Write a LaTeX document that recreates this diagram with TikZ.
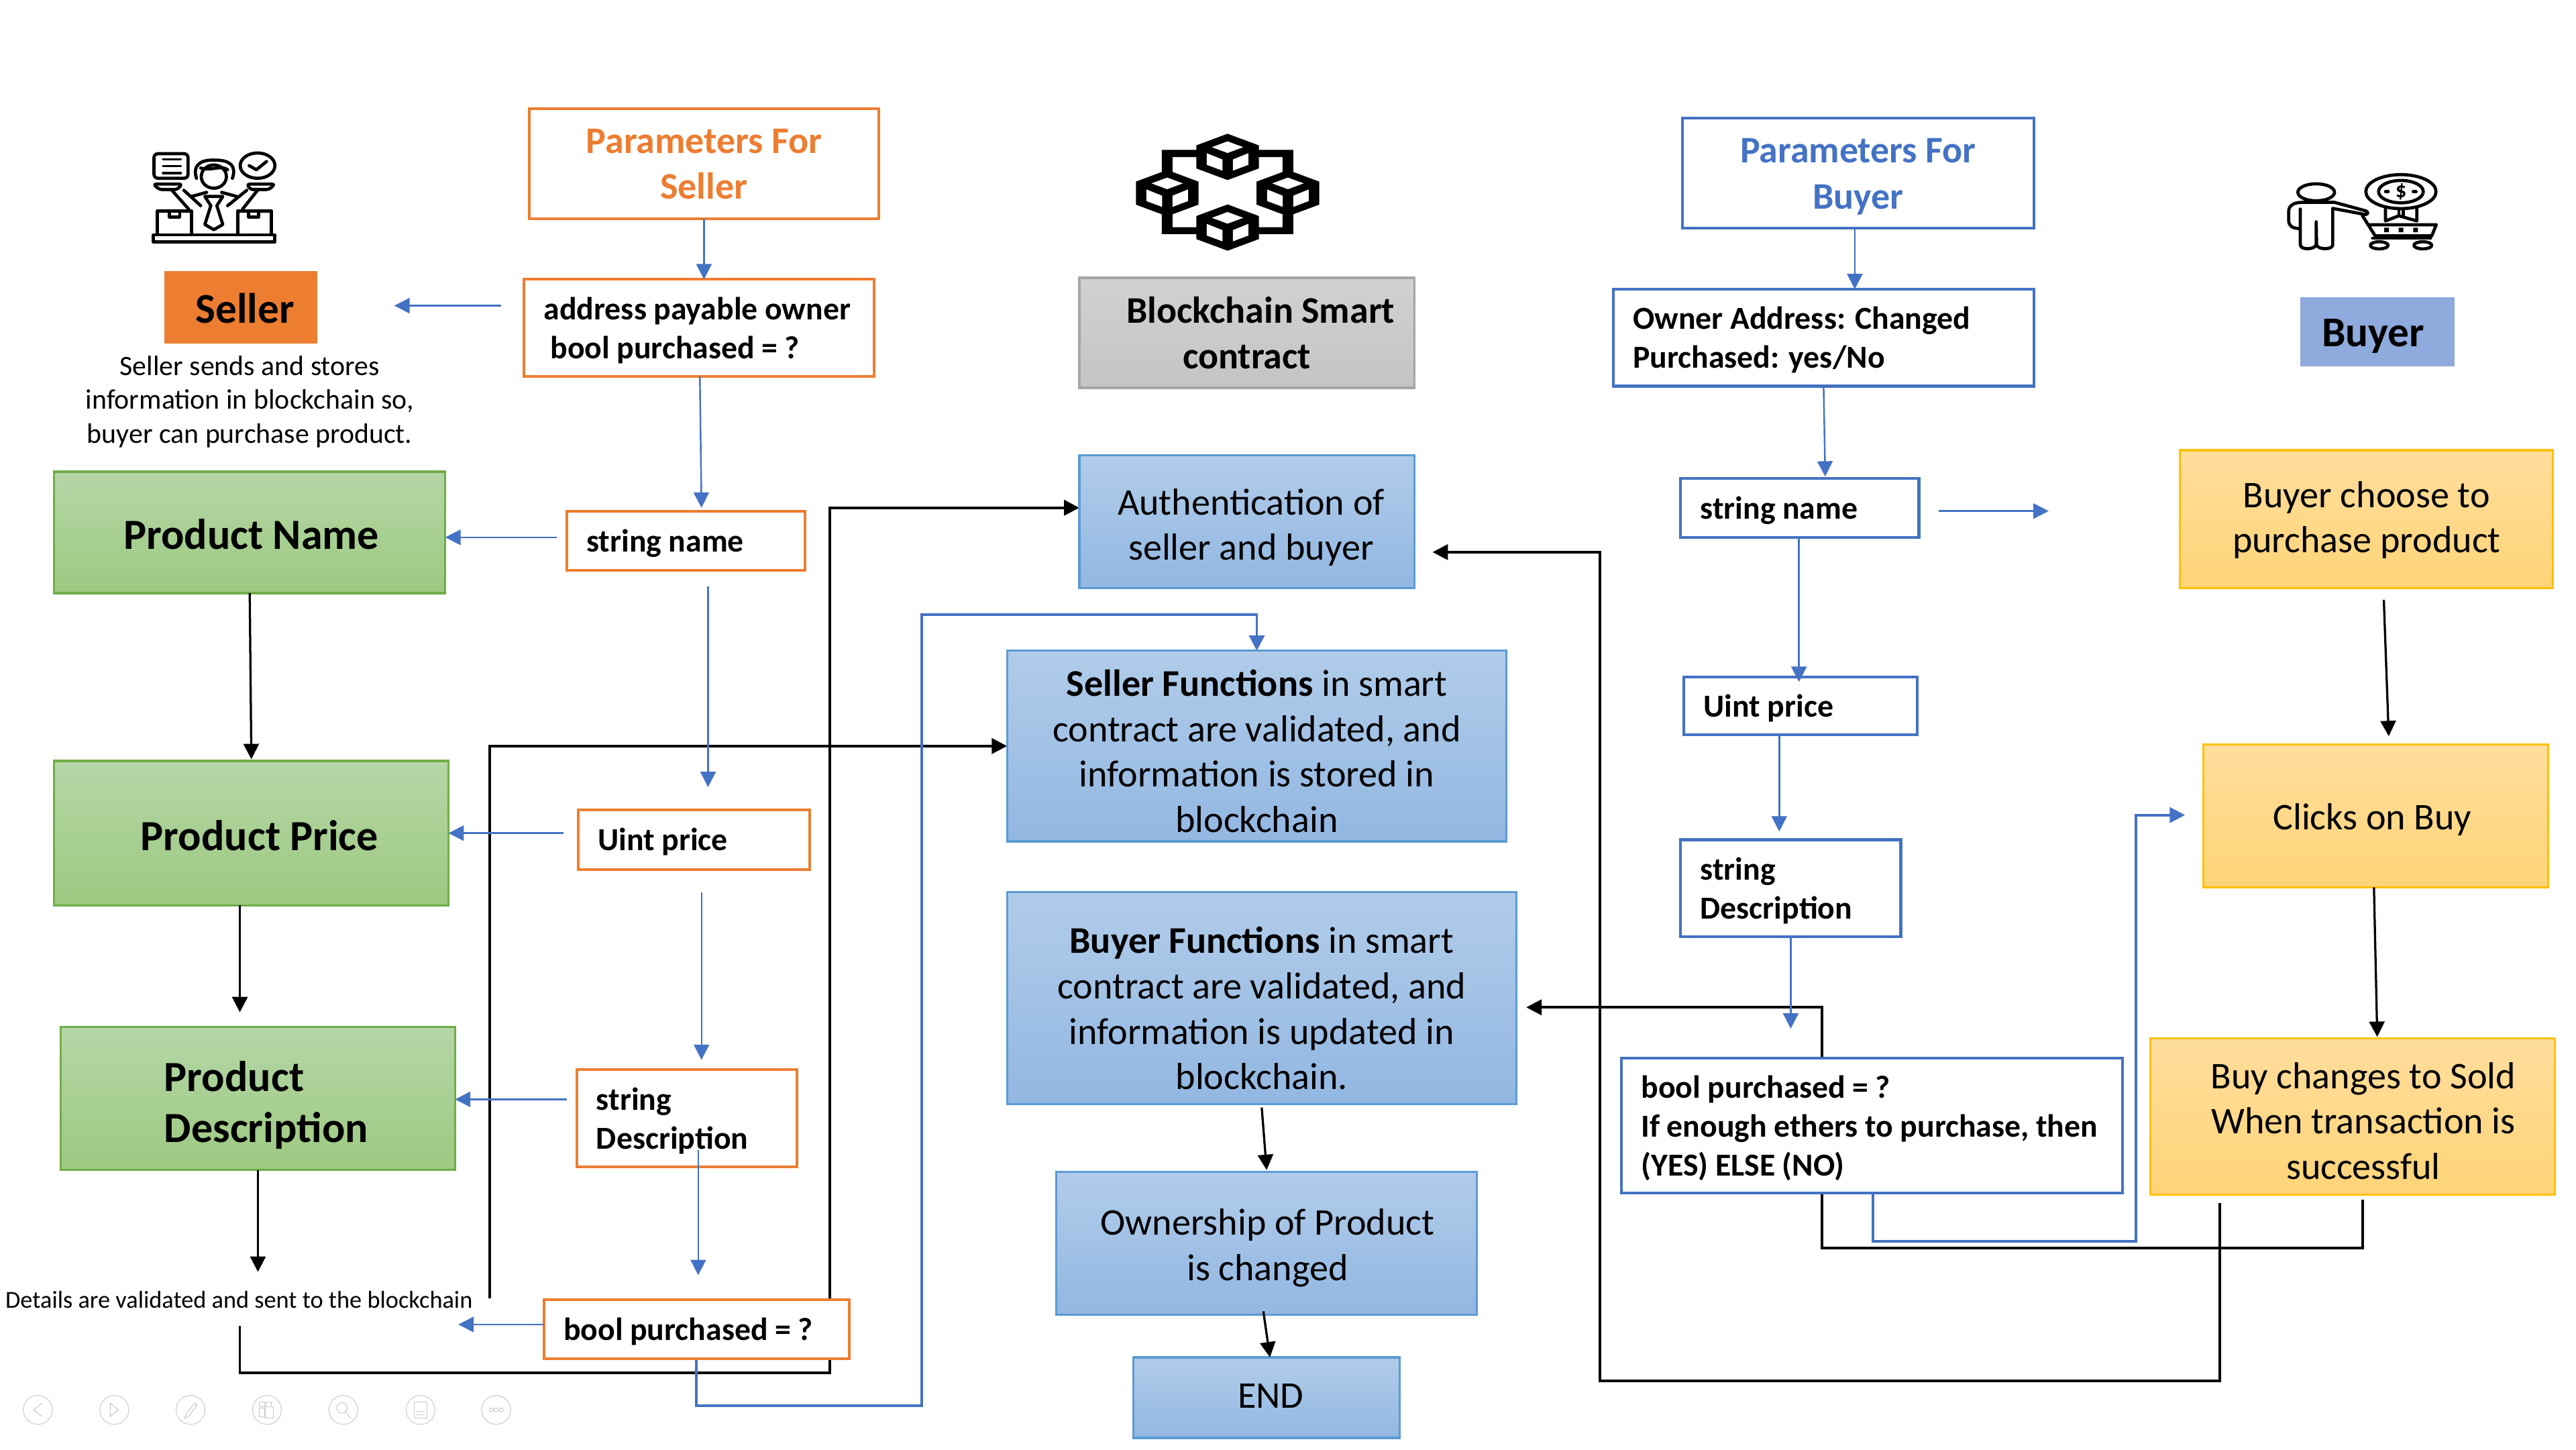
\documentclass[tikz,border=0pt]{standalone}
\usepackage{fontspec}
\setmainfont{Carlito}[BoldFeatures={WordSpace=0.97}]
\usetikzlibrary{arrows.meta,backgrounds}
\definecolor{ob}{HTML}{4472C4}
\definecolor{oo}{HTML}{ED7D31}
\newdimen\uu \uu=0.6pt
\newcommand{\bx}[7]{%
  \pgfmathsetmacro\bxcx{(#3+#5)/2}\pgfmathsetmacro\bxcy{(#4+#6)/2}%
  \node[#1,minimum width={(#5-#3)*0.6pt},minimum height={(#6-#4)*0.6pt}] (#2) at (\bxcx,\bxcy) {#7};}
% centred text block moved by dx, dy (picture units)
\newcommand{\sft}[3]{\hspace*{#1\uu}\raisebox{-#2\uu}[\height][\depth]{\begin{tabular}{@{}c@{}}#3\end{tabular}}\hspace*{-#1\uu}}
% left aligned text block: box width, left padding, dy
\newcommand{\lsft}[4]{\makebox[#1\uu][l]{\hspace*{#2\uu}\raisebox{-#3\uu}[\height][\depth]{\begin{tabular}{@{}l@{}}#4\end{tabular}}}}
\tikzset{
  x=0.6pt,y=-0.6pt,
  base/.style={outer sep=0pt,inner sep=0pt,align=center,line width=0.8pt},
  fbig/.style={font=\fontsize{13.75}{16.6}\selectfont},
  fbold/.style={font=\fontsize{13.7}{16.8}\selectfont\bfseries},
  fsm/.style={font=\fontsize{11.7}{14.2}\selectfont\bfseries},
  fhead/.style={font=\fontsize{15.7}{18.6}\selectfont\bfseries},
  orbox/.style={base,line width=1pt,draw=oo,fill=white,fsm},
  blbox/.style={base,line width=1pt,draw=ob,fill=white,fsm},
  grn/.style={base,draw={rgb,255:red,112;green,173;blue,71},top color={rgb,255:red,181;green,214;blue,167},bottom color={rgb,255:red,157;green,201;blue,129},fhead},
  blu/.style={base,draw={rgb,255:red,91;green,155;blue,213},top color={rgb,255:red,177;green,204;blue,233},bottom color={rgb,255:red,146;green,183;blue,226},fbig},
  yel/.style={base,draw={rgb,255:red,255;green,192;blue,0},top color={rgb,255:red,255;green,221;blue,156},bottom color={rgb,255:red,255;green,212;blue,120},fbig},
  bar/.style={line width=0.6pt,draw=ob,-{Triangle[length=5.6pt,width=5.6pt]}},
  kar/.style={line width=0.8pt,draw=black,-{Triangle[length=5.6pt,width=5.6pt]}},
  kroute/.style={line width=0.95pt,draw=black,-{Triangle[length=5.6pt,width=5.6pt]}},
  broute/.style={line width=0.95pt,draw=ob,-{Triangle[length=5.6pt,width=5.6pt]}},
  ico/.style={line width=1.15pt,draw=black,line join=round,line cap=round},
  nav/.style={line width=0.3pt,draw=black!18,fill=white},
  navg/.style={line width=0.25pt,draw=black!22},
}
\begin{document}
\begin{tikzpicture}
\useasboundingbox (0,0) rectangle (1568,882);
% ---- seller column
\bx{orbox,text=oo,fbold}{ps}{322}{66}{535}{133}{\sft{0}{2}{Parameters For\\Seller}}
\bx{base,fill=oo,font=\fontsize{15.5}{18}\selectfont\bfseries}{seller}{100}{165}{193}{209}{\sft{2.5}{3.5}{Seller}}
\bx{orbox}{addr}{319}{170}{532}{229}{\lsft{213}{12}{2}{address payable owner\\\hspace*{2.4pt}bool purchased = ?}}
\node[base,font=\fontsize{10.25}{12.3}\selectfont] (sellertext) at (152,244.5) {Seller sends and stores\\information in blockchain so,\\buyer can purchase product.};
\bx{grn}{pname}{33}{287}{271}{361}{\sft{1}{4}{Product Name}}
\bx{orbox}{sname}{345}{311}{490}{347}{\lsft{145}{12}{2}{string name}}
\bx{grn}{pprice}{33}{463}{273}{551}{\sft{5}{4.5}{Product Price}}
\bx{orbox}{uprice}{352}{493}{493}{529}{\lsft{141}{12}{2}{Uint price}}
\bx{grn}{pdesc}{37}{625}{277}{712}{\lsft{240}{63}{5}{Product\\Description}}
\bx{orbox}{sdesc}{351}{651}{485}{710}{\lsft{134}{12}{2}{string\\Description}}
\node[base,font=\fontsize{8.9}{11}\selectfont] (details) at (145.5,791) {Details are validated and sent to the blockchain};
\bx{orbox}{bool}{331}{791}{517}{827}{\lsft{186}{12}{2}{bool purchased = ?}}
% ---- centre column
\bx{base,draw={rgb,255:red,165;green,165;blue,165},top color={rgb,255:red,209;green,209;blue,209},bottom color={rgb,255:red,196;green,196;blue,196},fbold}{bsc}{657}{169}{861}{236}{\hspace*{10pt}Blockchain Smart\\contract}
\bx{blu}{auth}{657}{277}{861}{358}{\sft{2.5}{4}{Authentication of\\seller and buyer}}
\bx{blu}{sfun}{613}{396}{917}{512}{\sft{0}{5.5}{\textbf{Seller Functions} in smart\\contract are validated, and\\information is stored in\\blockchain}}
\bx{blu}{bfun}{613}{543}{923}{672}{\sft{0}{8.5}{\textbf{Buyer Functions} in smart\\contract are validated, and\\information is updated in\\blockchain.}}
\bx{blu}{own}{643}{713}{899}{800}{\sft{0.5}{3.5}{Ownership of Product\\is changed}}
\bx{blu}{endn}{690}{826}{852}{875}{\sft{2.5}{1}{END}}
% ---- buyer parameter column
\bx{blbox,text=ob,fbold}{pb}{1024}{72}{1238}{139}{\sft{0}{2}{Parameters For\\Buyer}}
\bx{blbox}{oaddr}{982}{176}{1238}{235}{\lsft{256}{12}{2}{Owner Address: Changed\\Purchased: yes/No}}
\bx{blbox}{bname}{1023}{291}{1168}{327}{\lsft{145}{12}{2}{string name}}
\bx{blbox}{bprice}{1025}{412}{1167}{447}{\lsft{142}{12}{2}{Uint price}}
\bx{blbox}{bdesc}{1023}{511}{1157}{570}{\lsft{134}{12}{2}{string\\Description}}
\bx{blbox}{bbool}{987}{644}{1292}{726}{\lsft{305}{12}{2}{bool purchased = ?\\If enough ethers to purchase, then\\(YES) ELSE (NO)}}
% ---- buyer column
\bx{base,fill={rgb,255:red,143;green,170;blue,220},font=\fontsize{15.5}{18}\selectfont\bfseries}{buyer}{1400}{181}{1494}{223}{\sft{-2.5}{3}{Buyer}}
\bx{yel}{choose}{1327}{274}{1554}{358}{\sft{0}{1}{Buyer choose to\\purchase product}}
\bx{yel}{clicks}{1341}{453}{1551}{540}{\sft{-2}{3}{Clicks on Buy}}
\bx{yel}{changes}{1309}{632}{1555}{727}{\sft{6.5}{5}{Buy changes to Sold\\When transaction is\\successful}}
% ---- free ends and bends
\coordinate (a1) at (305,186); \coordinate (a2) at (240,186);
\coordinate (a3) at (339,327);
\coordinate (a4) at (431,357); \coordinate (a5) at (431,479);
\coordinate (a6) at (343,507);
\coordinate (a7) at (427,543); \coordinate (a8) at (427,645);
\coordinate (a9) at (345,669);
\coordinate (a10) at (425,700); \coordinate (a11) at (425,776);
\coordinate (a12) at (279,806);
\coordinate (a13) at (1090,626);
\coordinate (a14) at (1180,311); \coordinate (a15) at (1247,311);
\coordinate (k1) at (146,616);
\coordinate (k2) at (157,774);
\coordinate (k3) at (298,790); \coordinate (k4) at (298,454);
\coordinate (k5) at (146,807); \coordinate (k6) at (146,835.5); \coordinate (k7) at (505,835.5); \coordinate (k8) at (505,309);
\coordinate (b1) at (424,855.5); \coordinate (b2) at (561,855.5); \coordinate (b3) at (561,374); \coordinate (b4) at (765,374);
\coordinate (k9) at (1451,365); \coordinate (k10) at (1454,448);
\coordinate (k11) at (1438,730); \coordinate (k12) at (1438,759.5); \coordinate (k13) at (1109,759.5); \coordinate (k14) at (1109,613);
\coordinate (k15) at (929,613);
\coordinate (b5) at (1140,755.5); \coordinate (b6) at (1300,755.5); \coordinate (b7) at (1300,496); \coordinate (b8) at (1330,496);
\coordinate (k16) at (1351,732); \coordinate (k17) at (1351,840.5); \coordinate (k18) at (974,840.5); \coordinate (k19) at (974,336); \coordinate (k20) at (872,336);
\coordinate (k21) at (768,674); \coordinate (k22) at (771,712);
\coordinate (k23) at (769,798); \coordinate (k24) at (773,826);
\coordinate (t1) at (426,229); \coordinate (t2) at (427,309);
\coordinate (t3) at (1110,235); \coordinate (t4) at (1111,290);
\coordinate (t5) at (1445,540); \coordinate (t6) at (1447,631);
\coordinate (x1) at (1095,327); \coordinate (x2) at (1083,447); \coordinate (x3) at (1090,570);
\coordinate (x6) at (1095,415); \coordinate (x7) at (1083,506);
\coordinate (x4) at (428.5,0); \coordinate (x5) at (1129,0);
\coordinate (x8) at (152,0); \coordinate (x9) at (153,462);
\begin{pgfonlayer}{background}
\draw[kroute] (k3) -- (k4) -- (k4 -| sfun.west);
\draw[kroute] (k5) -- (k6) -- (k7) -- (k8) -- (k8 -| auth.west);
\draw[broute] (b1 |- bool.south) -- (b1) -- (b2) -- (b3) -- (b4) -- (b4 |- sfun.north);
\draw[kroute] (k11) -- (k12) -- (k13) -- (k14) -- (k15);
\draw[broute] (b5 |- bbool.south) -- (b5) -- (b6) -- (b7) -- (b8);
\draw[kroute] (k16) -- (k17) -- (k18) -- (k19) -- (k20);
\end{pgfonlayer}
% ---- blue arrows
\draw[bar] (ps.south -| x4) -- (addr.north -| x4);
\draw[bar] (a1) -- (a2);
\draw[bar] (t1) -- (t2);
\draw[bar] (a3) -- (a3 -| pname.east);
\draw[bar] (a4) -- (a5);
\draw[bar] (a6) -- (a6 -| pprice.east);
\draw[bar] (a7) -- (a8);
\draw[bar] (a9) -- (a9 -| pdesc.east);
\draw[bar] (a10) -- (a11);
\draw[bar] (bool.west |- a12) -- (a12);
\draw[bar] (pb.south -| x5) -- (oaddr.north -| x5);
\draw[bar] (t3) -- (t4);
\draw[bar] (x1) -- (x6);
\draw[bar] (x2) -- (x7);
\draw[bar] (x3) -- (a13);
\draw[bar] (a14) -- (a15);
% ---- black arrows
\draw[kar] (pname.south -| x8) -- (x9);
\draw[kar] (pprice.south -| k1) -- (k1);
\draw[kar] (pdesc.south -| k2) -- (k2);
\draw[kar] (k21) -- (k22);
\draw[kar] (k23) -- (k24);
\draw[kar] (k9) -- (k10);
\draw[kar] (t5) -- (t6);
% ---- network icon
\begin{scope}[shift={(653.3,61.25)},scale=0.1361]
\fill[even odd rule] (396,220) rectangle (984,597) (444,252) rectangle (936,566);
\foreach \dx/\dy in {0/0,-270/162,270/162,0/316}{
 \begin{scope}[shift={(\dx,\dy)}]
 \fill (690,148) -- (830,200) -- (830,303) -- (690,355) -- (550,303) -- (550,200) -- cycle;
 \fill[white] (690,182) -- (760,208) -- (690,234) -- (620,208) -- cycle;
 \fill[white] (597,235) -- (667,263) -- (667,313) -- (597,287) -- cycle;
 \fill[white] (714,263) -- (783,235) -- (783,287) -- (714,313) -- cycle;
 \end{scope}}
\end{scope}
% ---- seller icon
\begin{scope}[shift={(0,40.8)},xscale=0.3646,yscale=0.2083]
\draw[ico,rounded corners=1.5pt] (257,253) rectangle (314,325);
\draw[ico,line width=0.8pt] (272,270) -- (302,270) (272,290) -- (302,290) (272,310) -- (302,310);
\draw[ico] (430,288) ellipse [x radius=29,y radius=37];
\draw[ico] (416,288) -- (428,300) -- (445,276);
\draw[ico] (357,320) ellipse [x radius=21,y radius=34];
\draw[ico] (328,325) .. controls (320,280) and (340,270) .. (360,272) .. controls (385,272) and (395,290) .. (388,325);
\draw[ico] (335,295) .. controls (350,305) and (370,285) .. (380,300);
\draw[ico,rounded corners=1pt] (256,342) -- (304,342) -- (296,358) -- (266,358) -- cycle;
\draw[ico,rounded corners=1pt] (412,342) -- (459,342) -- (449,358) -- (418,358) -- cycle;
\draw[ico] (287,360) -- (315,415) (307,360) -- (335,405);
\draw[ico] (430,360) -- (405,415) (412,360) -- (380,405);
\draw[ico] (320,378) -- (345,366) (395,378) -- (370,366);
\draw[ico,fill=white] (342,378) -- (372,378) -- (362,405) -- (372,460) -- (357,475) -- (342,460) -- (352,405) -- cycle;
\draw[ico] (263,420) rectangle (320,490) (397,420) rectangle (453,490);
\draw[ico] (283,420) -- (283,438) -- (300,438) -- (300,420) (415,420) -- (415,438) -- (432,438) -- (432,420);
\draw[ico] (256,490) rectangle (459,511);
\end{scope}
% ---- buyer icon
\begin{scope}[shift={(1372,89.8)},scale=0.1361]
\draw[ico] (278,200) ellipse [x radius=82,y radius=38];
\draw[ico] (207,362) .. controls (170,362) and (155,350) .. (155,325) -- (155,285) .. controls (155,255) and (185,245) .. (215,245) -- (360,245) -- (500,283) .. controls (515,290) and (510,303) .. (490,298) -- (352,272) -- (352,435) .. controls (352,458) and (285,458) .. (280,435) -- (278,332) -- (278,435) .. controls (270,458) and (207,458) .. (207,435) -- (207,275);
\draw[ico] (485,305) -- (542,395);
\draw[ico] (520,345) -- (815,345) -- (795,395) -- (542,395);
\draw[ico] (530,405) -- (790,405);
\draw[ico] (560,437) ellipse [x radius=40,y radius=16] (755,437) ellipse [x radius=40,y radius=16];
\fill (582,358) rectangle (603,379) (647,358) rectangle (668,379) (712,358) rectangle (733,379);
\draw[ico] (657,197) ellipse [x radius=157,y radius=76];
\draw[ico] (657,197) ellipse [x radius=100,y radius=50];
\draw[ico] (588,197) -- (600,197) (712,197) -- (725,197);
\draw[ico] (588,270) -- (588,328) -- (648,305) -- (728,328) -- (728,270);
\draw[ico] (648,278) -- (648,305) (668,278) -- (668,305);
\node[font=\fontsize{8}{8}\selectfont\bfseries] (dollar) at (657,197) {\$};
\end{scope}
% ---- slide navigation ghosts
\foreach \nx/\nn in {23/n1,69.6/n2,116/n3,162.5/n4,209/n5,256/n6,302/n7}{\coordinate (\nn) at (\nx,858); \draw[nav] (\nn) circle [radius=8.8];}
\begin{scope}[navg]
\draw ([shift={(2.5,-4)}]n1) -- ++(-5,4) -- ++(5,4);
\draw ([shift={(-2.5,-4)}]n2) -- ++(5,4) -- ++(-5,4) -- cycle;
\draw ([shift={(-3.5,5)}]n3) -- ++(1,-3) -- ++(5,-6) -- ++(1.5,1) -- ++(-5,6.5) -- cycle;
\draw ([shift={(-4.5,-5)}]n4) rectangle ++(3,3) ([shift={(-0.5,-5)}]n4) rectangle ++(3,3) ([shift={(-4.5,-1)}]n4) rectangle ++(3,5) ([shift={(-1,-2)}]n4) rectangle ++(5,7);
\draw ([shift={(-0.8,-1.2)}]n5) circle [radius=3.2] ([shift={(1.5,1.2)}]n5) -- ++(3,4);
\draw ([shift={(-4,-5)}]n6) rectangle ++(8,10) ([shift={(-2.5,1)}]n6) -- ++(5,0) ([shift={(-2.5,2.8)}]n6) -- ++(5,0);
\draw ([shift={(-3,0)}]n7) circle [radius=1.2] (n7) circle [radius=1.2] ([shift={(3,0)}]n7) circle [radius=1.2];
\end{scope}
\end{tikzpicture}
\end{document}
